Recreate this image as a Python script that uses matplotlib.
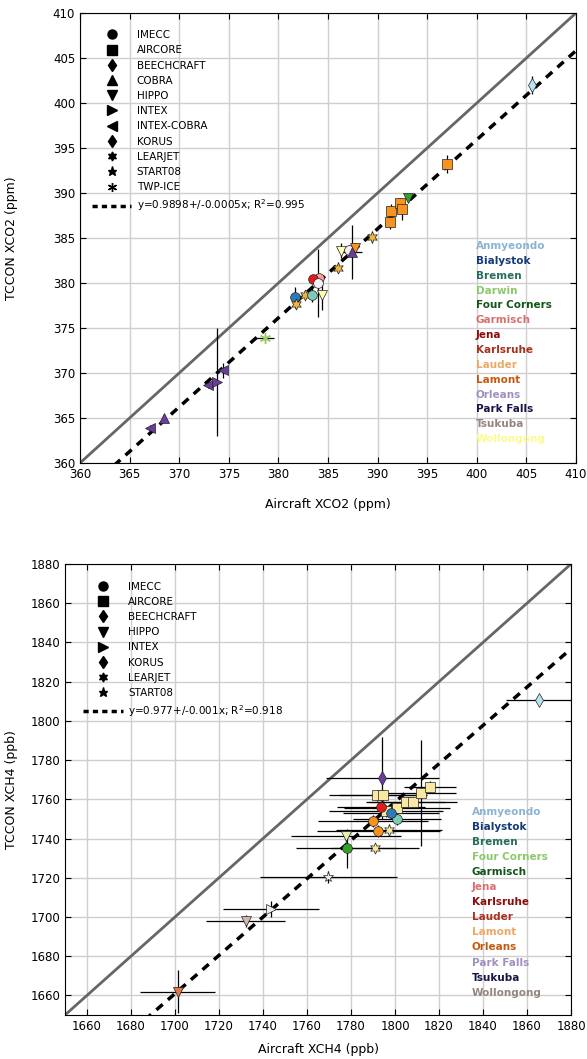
import numpy as np
import matplotlib
matplotlib.use("Agg")
import matplotlib.pyplot as plt
from matplotlib.lines import Line2D

# --- marker per aircraft campaign ---
campaign_markers = {
    "IMECC": "o", "AIRCORE": "s", "BEECHCRAFT": "d", "COBRA": "^",
    "HIPPO": "v", "INTEX": ">", "INTEX-COBRA": "<", "KORUS": "d",
    "LEARJET": (6, 1, 0), "START08": "*", "TWP-ICE": (6, 2, 0),
}

# --- colours, taken in order for the sites of each panel ---
text_palette = ["#8cb4d2", "#143a78", "#256e5e", "#8dc86a", "#14561a", "#d87070", "#8c0c0c",
                "#a8301e", "#eaaa66", "#c45a10", "#a090c0", "#1a1448", "#958580", "#fbfb90"]

# ---------------- CO2 panel ----------------
co2_sites = ["Anmyeondo", "Bialystok", "Bremen", "Darwin", "Four Corners", "Garmisch", "Jena",
             "Karlsruhe", "Lauder", "Lamont", "Orleans", "Park Falls", "Tsukuba", "Wollongong"]
co2_site_colors = ["#b8e4f0", "#2b7bba", "#7ccab8", "#9ccc65", "#33a02c", "#fb9a99", "#e31a1c",
                   "#b15928", "#f2b53c", "#f7931e", "#f4f0f8", "#6a3d9a", "#c8b8b0", "#ffffb8"]
co2_campaigns = ["IMECC", "AIRCORE", "BEECHCRAFT", "COBRA", "HIPPO", "INTEX", "INTEX-COBRA",
                 "KORUS", "LEARJET", "START08", "TWP-ICE"]
co2_pt_site = ["Park Falls", "Park Falls", "Park Falls", "Park Falls", "Park Falls", "Darwin",
               "Bialystok", "Lauder", "Lauder", "Bremen", "Wollongong", "Garmisch", "Jena",
               "Orleans", "Lauder", "Wollongong", "Orleans", "Park Falls", "Lamont", "Lauder",
               "Lamont", "Lamont", "Lamont", "Lamont", "Lamont", "Four Corners", "Anmyeondo"]
co2_pt_campaign = ["INTEX-COBRA", "COBRA", "INTEX-COBRA", "INTEX", "INTEX-COBRA", "TWP-ICE",
                   "IMECC", "LEARJET", "LEARJET", "IMECC", "HIPPO", "IMECC", "IMECC",
                   "IMECC", "LEARJET", "HIPPO", "IMECC", "COBRA", "HIPPO", "LEARJET",
                   "AIRCORE", "AIRCORE", "AIRCORE", "AIRCORE", "AIRCORE", "HIPPO", "KORUS"]
co2_aircraft = [367.1, 368.5, 372.9, 373.8, 374.4, 378.6, 381.7, 381.8, 382.7, 383.35, 384.4,
                384.1, 383.5, 383.95, 386.0, 386.3, 387.1, 387.4, 387.7, 389.4,
                391.3, 391.4, 392.3, 392.5, 397.0, 393.1, 405.6]
co2_tccon = [363.9, 365.0, 368.7, 369.0, 370.3, 373.9, 378.4, 377.7, 378.7, 378.7, 378.7,
             380.6, 380.4, 380.0, 381.7, 383.6, 383.7, 383.5, 383.9, 385.1,
             386.8, 388.0, 388.9, 388.2, 393.2, 389.5, 402.0]
co2_xerr = [0, 0, 0, 0, 0, 1.0, 0.3, 0, 0, 0, 0, 0, 0, 0, 0, 0, 0, 1.0, 0, 0,
            0, 0, 0, 0, 0, 0, 0]
co2_yerr = [0.3, 0.3, 0.4, 6.0, 0.8, 0.3, 1.2, 0.5, 0.4, 0.8, 1.7, 0.3, 0.5, 3.8, 0.6, 0.8,
            0.5, 3.0, 0.5, 0.7, 0.8, 0.8, 0.6, 1.2, 1.0, 0.4, 1.0]
co2_fit = 0.9898

# ---------------- CH4 panel ----------------
ch4_sites = ["Anmyeondo", "Bialystok", "Bremen", "Four Corners", "Garmisch", "Jena", "Karlsruhe",
             "Lauder", "Lamont", "Orleans", "Park Falls", "Tsukuba", "Wollongong"]
ch4_site_colors = ["#b8e4f0", "#2b7bba", "#7ccab8", "#e4f4b0", "#33a02c", "#fb9a99", "#e31a1c",
                   "#e07a4a", "#f8e8a4", "#f7931e", "#eeeaf4", "#6a3d9a", "#d0b8b0"]
ch4_campaigns = ["IMECC", "AIRCORE", "BEECHCRAFT", "HIPPO", "INTEX", "KORUS", "LEARJET", "START08"]
ch4_pt_site = ["Lauder", "Wollongong", "Park Falls", "Park Falls", "Garmisch", "Four Corners",
               "Lamont", "Tsukuba", "Lamont", "Lamont", "Lamont", "Lamont", "Lamont", "Lamont",
               "Lamont", "Lamont", "Karlsruhe", "Orleans", "Orleans", "Bremen", "Bialystok",
               "Lamont", "Anmyeondo"]
ch4_pt_campaign = ["HIPPO", "HIPPO", "INTEX", "START08", "IMECC", "HIPPO", "LEARJET",
                   "BEECHCRAFT", "AIRCORE", "AIRCORE", "AIRCORE", "AIRCORE", "AIRCORE", "AIRCORE",
                   "AIRCORE", "AIRCORE", "IMECC", "IMECC", "IMECC", "IMECC", "IMECC",
                   "LEARJET", "KORUS"]
ch4_aircraft = [1701.2, 1732.1, 1743.6, 1769.7, 1778.0, 1777.6, 1790.9, 1794.3,
                1792.0, 1794.7, 1795.8, 1800.8, 1804.9, 1808.0, 1811.8, 1815.9,
                1793.6, 1790.2, 1792.4, 1801.0, 1798.2, 1797.4, 1865.6]
ch4_tccon = [1661.9, 1698.0, 1703.9, 1720.3, 1735.0, 1741.3, 1735.0, 1770.8,
             1762.0, 1762.0, 1754.1, 1755.5, 1758.4, 1758.4, 1763.1, 1766.5,
             1756.3, 1748.8, 1743.9, 1749.8, 1752.9, 1744.2, 1810.7]
ch4_xerr = [17, 18, 22, 31, 23, 25, 20, 25.5, 22, 20, 26, 24, 18, 20, 16, 12,
            20, 25, 28, 20, 22, 24, 15]
ch4_yerr = [11, 3, 4, 3, 10, 3, 2, 21, 3, 3, 3, 3, 3, 3, 27, 3, 3, 3, 3, 3, 3, 3, 2]
ch4_fit = 0.977

fig = plt.figure(figsize=(5.87, 10.59), dpi=100)
ax1 = fig.add_axes([80 / 587, 1 - 463 / 1059, 496 / 587, 450 / 1059])
ax2 = fig.add_axes([65 / 587, 1 - 1015 / 1059, 506 / 587, 451 / 1059])


def draw_panel(ax, sites, site_colors, campaigns, pt_site, pt_campaign, xs, ys, xerr, yerr,
               fit, lims, ticks, fit_label, xlabel, ylabel, legend_xy, names_xy, name_step,
               xlabel_y, ylabel_x):
    ax.set_xlim(lims)
    ax.set_ylim(lims)
    ax.set_xticks(ticks)
    ax.set_yticks(ticks)
    ax.grid(True, color="#cfcfcf", lw=1)
    ax.set_axisbelow(True)
    ax.tick_params(direction="in", top=True, right=True, length=4, labelsize=8.5)

    line = np.array(lims)
    ax.plot(line, line, color="#666666", lw=2, zorder=2)
    ax.plot(line, fit * line, color="black", lw=2.5, ls="--", dashes=(2.4, 2.0), zorder=2)

    # error bars first, then the markers on top
    ax.errorbar(xs, ys, xerr=xerr, yerr=yerr, fmt="none", ecolor="black",
                elinewidth=0.9, capsize=0, zorder=3)
    for s, c, x, y in zip(pt_site, pt_campaign, xs, ys):
        col = site_colors[sites.index(s)]
        ms = 8 if c in ("LEARJET", "START08", "TWP-ICE") else 7
        ax.plot(x, y, ls="none", marker=campaign_markers[c], ms=ms, mfc=col,
                mec="#222222" if c != "TWP-ICE" else col, mew=0.5 if c != "TWP-ICE" else 1,
                zorder=4)

    handles = [Line2D([], [], ls="none", marker=campaign_markers[c], color="black", ms=6.5)
               for c in campaigns]
    handles.append(Line2D([], [], color="black", lw=2.5, ls="--", dashes=(1.5, 1.2)))
    ax.legend(handles, campaigns + [fit_label], loc="upper left", bbox_to_anchor=legend_xy,
              frameon=False, fontsize=7.5, handlelength=3.8, handletextpad=0.5,
              borderaxespad=0, borderpad=0, labelspacing=0.5)

    for i, name in enumerate(sites):
        ax.text(names_xy[0], names_xy[1] - i * name_step, name, transform=ax.transAxes,
                color=text_palette[i], fontsize=7.5, fontweight="bold", va="center", ha="left")

    ax.set_xlabel(xlabel, fontsize=9)
    ax.set_ylabel(ylabel, fontsize=9)
    ax.xaxis.set_label_coords(0.5, xlabel_y)
    ax.yaxis.set_label_coords(ylabel_x, 0.5)


draw_panel(ax1, co2_sites, co2_site_colors, co2_campaigns, co2_pt_site, co2_pt_campaign,
           co2_aircraft, co2_tccon, co2_xerr, co2_yerr, co2_fit, (360, 410),
           np.arange(360, 411, 5), "y=0.9898+/-0.0005x; R$^2$=0.995",
           "Aircraft XCO2 (ppm)", "TCCON XCO2 (ppm)", (0.024, 0.962), (0.798, 0.482),
           14.85 / 450, -0.078, -0.125)

draw_panel(ax2, ch4_sites, ch4_site_colors, ch4_campaigns, ch4_pt_site, ch4_pt_campaign,
           ch4_aircraft, ch4_tccon, ch4_xerr, ch4_yerr, ch4_fit, (1650, 1880),
           np.arange(1660, 1881, 20), "y=0.977+/-0.001x; R$^2$=0.918",
           "Aircraft XCH4 (ppb)", "TCCON XCH4 (ppb)", (0.036, 0.961), (0.804, 0.451),
           15.1 / 451, -0.062, -0.093)

fig.savefig("out.png", dpi=100)
